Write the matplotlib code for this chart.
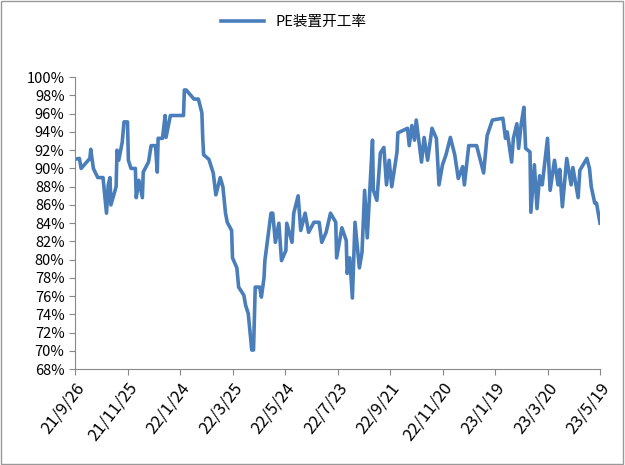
import datetime as dt
import matplotlib
matplotlib.use("Agg")
import matplotlib.pyplot as plt
from matplotlib.ticker import FuncFormatter
from matplotlib.patches import Rectangle

plt.rcParams['font.family'] = ['Noto Sans CJK SC', 'DejaVu Sans']

start = dt.date(2021, 9, 26)

# 天数偏移（相对 21/9/26）与开工率（%）
day_offset = [
    0, 5, 7, 17, 18, 21, 26, 32, 36, 38, 40, 41, 47, 48, 50, 54, 56, 60, 61, 64,
    69, 70, 73, 77, 78, 84, 87, 92, 94, 95, 100, 103, 104, 109, 124, 125, 127, 136,
    141, 145, 146, 147, 153, 155, 158, 161, 166, 169, 172, 174, 179, 180, 185, 187,
    193, 195, 198, 202, 204, 206, 211, 213, 216, 217, 224, 226, 229, 233, 236, 241,
    242, 248, 250, 255, 258, 263, 267, 273, 279, 282, 287, 292, 298, 299,
    305, 310, 311, 314, 317, 320, 325, 328, 331, 334, 340, 341, 345, 349, 353, 356,
    359, 362, 368, 369, 380, 382, 385, 388, 390, 396, 399, 403, 408, 413, 416, 420,
    424, 429, 434, 438, 443, 445, 450, 459, 467, 471, 477, 489, 492, 494, 499, 501,
    505, 507, 510, 513, 515, 520, 521, 525, 528, 531, 534, 540, 543, 548, 552, 554,
    557, 562, 567, 569, 575, 577, 585, 588, 590, 594, 596, 600,
]
pe_rate = [
    91.0, 91.1, 90.0, 91.1, 92.1, 90.0, 89.0, 89.0, 85.1, 88.2, 89.0, 86.0, 88.0, 92.0, 90.9, 92.9, 95.1, 95.1, 90.9, 90.0,
    90.0, 86.8, 88.7, 86.8, 89.6, 90.7, 92.5, 92.5, 89.6, 93.3, 93.3, 95.8, 93.4, 95.8, 95.8, 98.6, 98.6, 97.6,
    97.6, 96.1, 93.3, 91.5, 91.0, 90.4, 89.5, 87.1, 89.0, 88.0, 85.1, 84.1, 83.2, 80.2, 79.1, 77.0,
    76.1, 75.0, 74.1, 70.1, 70.1, 77.0, 77.0, 75.9, 78.0, 79.9, 85.1, 85.1, 81.9, 84.0, 79.9, 81.0,
    84.0, 81.9, 85.1, 87.0, 83.2, 85.1, 83.0, 84.1, 84.1, 81.9, 83.0, 85.1, 84.1, 80.2,
    83.5, 82.1, 78.5, 80.2, 75.8, 84.1, 79.1, 80.8, 87.6, 82.4, 93.1, 87.6, 86.5, 91.7, 92.3, 88.2,
    90.9, 88.0, 91.8, 93.9, 94.4, 92.5, 94.7, 93.1, 95.3, 90.7, 93.4, 90.9, 94.4, 93.3, 88.2, 90.4,
    91.5, 93.4, 91.5, 88.9, 90.2, 88.2, 92.5, 92.5, 89.5, 93.6, 95.3, 95.5, 93.3, 94.0, 90.7, 93.3,
    94.9, 92.2, 94.9, 96.7, 92.2, 91.8, 85.2, 90.4, 85.6, 89.2, 88.2, 93.3, 87.6, 90.9, 88.2, 89.9,
    85.8, 91.1, 88.2, 90.1, 86.8, 89.8, 91.1, 90.0, 88.0, 86.2, 86.2, 84.0,
]
tick_labels = ['21/9/26', '21/11/25', '22/1/24', '22/3/25', '22/5/24', '22/7/23',
               '22/9/21', '22/11/20', '23/1/19', '23/3/20', '23/5/19']

dates = [start + dt.timedelta(days=d) for d in day_offset]
ticks = [start + dt.timedelta(days=60 * i) for i in range(len(tick_labels))]

fig = plt.figure(figsize=(6.25, 4.65), dpi=100)
ax = fig.add_axes([0.12, 0.206, 0.84, 0.628])
line, = ax.plot(dates, pe_rate, color='#4a7ebb', lw=2.6, label='PE装置开工率')

ax.set_xlim(start, start + dt.timedelta(days=600))
ax.set_ylim(68, 100)
ax.set_yticks(range(68, 101, 2))
ax.yaxis.set_major_formatter(FuncFormatter(lambda v, p: f'{v:.0f}%'))
ax.set_xticks(ticks)
ax.set_xticklabels(tick_labels, rotation=52, ha='right', rotation_mode='anchor', fontsize=12)
ax.tick_params(axis='y', labelsize=10.5, length=4, color='#888888')
ax.tick_params(axis='x', length=4, color='#888888')
for s in ['top', 'right']:
    ax.spines[s].set_visible(False)
for s in ['left', 'bottom']:
    ax.spines[s].set_color('#888888')

fig.legend(handles=[line], loc='center', bbox_to_anchor=(0.47, 0.952), frameon=False,
           fontsize=10.5, handlelength=3)
fig.patches.append(Rectangle((0.002, 0.002), 0.995, 0.995, transform=fig.transFigure,
                             fill=False, edgecolor='#999999', lw=1))
fig.savefig('out.png', dpi=100)
